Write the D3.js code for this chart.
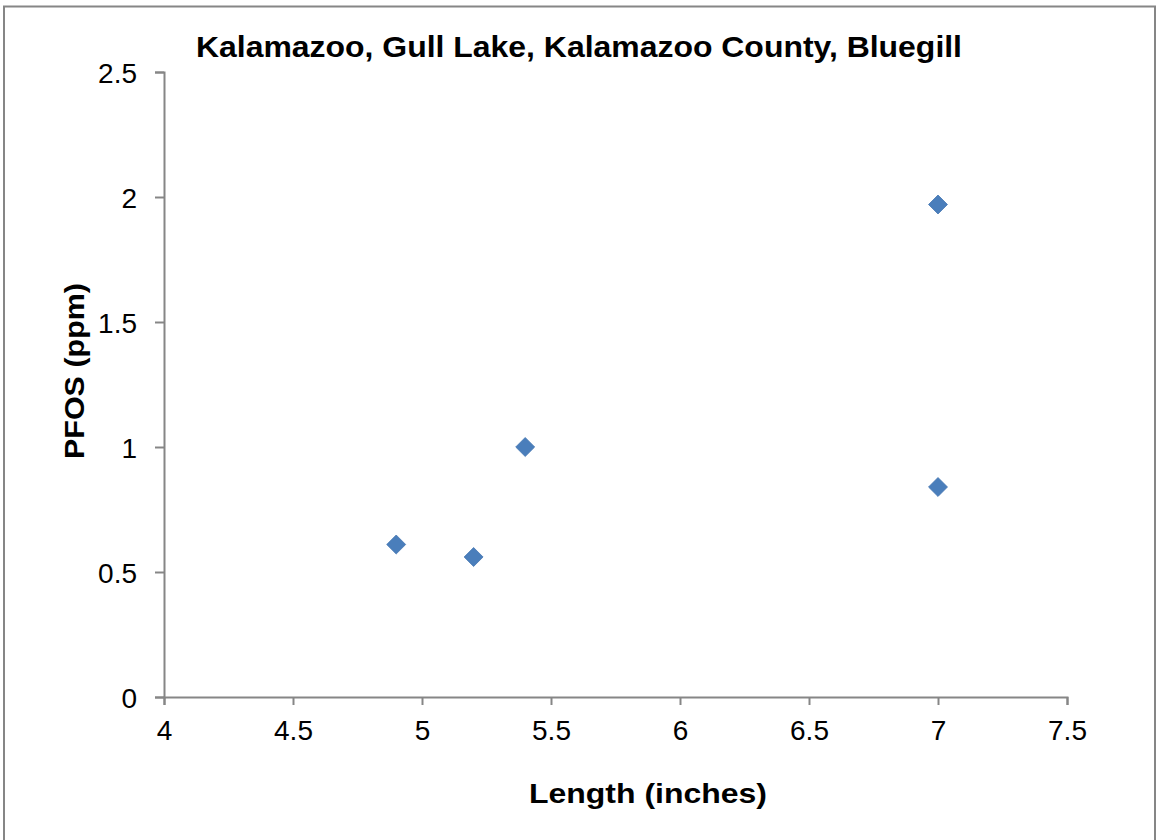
<!DOCTYPE html>
<html>
<head>
<meta charset="utf-8">
<script src="https://cdn.jsdelivr.net/npm/d3@7/dist/d3.min.js"></script>
<style>
  html, body { margin: 0; padding: 0; background: #fff; }
  svg { display: block; font-family: "Liberation Sans", Arial, sans-serif; }
</style>
</head>
<body>
<svg id="chart" width="1156" height="840"></svg>
<script>
// PFOS concentration vs. fish length, Gull Lake bluegill
const lengths = [4.9, 5.2, 5.4, 7.0, 7.0];
const pfos = [0.61, 0.56, 1.0, 1.97, 0.84];
const xTicks = [4, 4.5, 5, 5.5, 6, 6.5, 7, 7.5];
const yTicks = [0, 0.5, 1, 1.5, 2, 2.5];
const title = "Kalamazoo, Gull Lake, Kalamazoo County, Bluegill";
const xTitle = "Length (inches)";
const yTitle = "PFOS (ppm)";

const svg = d3.select("#chart");
const plot = { left: 164, right: 1067, top: 72, bottom: 697 };

// outer chart frame
svg.append("rect")
  .attr("x", 4).attr("y", 6.5)
  .attr("width", 1151).attr("height", 840)
  .attr("fill", "#fff").attr("stroke", "#868686").attr("stroke-width", 2);

const x = d3.scaleLinear().domain([4, 7.5]).range([plot.left, plot.right]);
const y = d3.scaleLinear().domain([0, 2.5]).range([plot.bottom, plot.top]);

const fmt = d => String(d);

const xAxis = svg.append("g")
  .attr("transform", `translate(0,${plot.bottom})`)
  .call(d3.axisBottom(x).tickValues(xTicks).tickFormat(fmt).tickSize(8).tickSizeOuter(8).tickPadding(15));
const yAxis = svg.append("g")
  .attr("transform", `translate(${plot.left},0)`)
  .call(d3.axisLeft(y).tickValues(yTicks).tickFormat(fmt).tickSize(9).tickSizeOuter(9).tickPadding(18));

[xAxis, yAxis].forEach(g => {
  g.selectAll("path.domain").attr("stroke", "#868686").attr("stroke-width", 2);
  g.selectAll(".tick line").attr("stroke", "#868686").attr("stroke-width", 2);
  g.selectAll(".tick text")
    .attr("fill", "#000")
    .style("font-family", "'Liberation Sans', Arial, sans-serif")
    .style("font-size", "28px");
});
xAxis.selectAll(".tick text").attr("dy", "0.71em");
yAxis.selectAll(".tick text").attr("dy", "0.36em");

// data markers: diamonds
const diamond = d3.symbol().type(d3.symbolDiamond2).size(230);
svg.append("g").selectAll("path")
  .data(lengths.map((l, i) => ({ l, v: pfos[i] })))
  .join("path")
  .attr("d", diamond)
  .attr("transform", d => `translate(${x(d.l)},${y(d.v)})`)
  .attr("fill", "#4a7ebb")
  .attr("stroke", "#4677b3")
  .attr("stroke-width", 0.8);

// titles
svg.append("text")
  .attr("x", 579).attr("y", 57)
  .attr("text-anchor", "middle")
  .attr("textLength", 766).attr("lengthAdjust", "spacingAndGlyphs")
  .style("font-size", "30px").style("font-weight", "bold")
  .text(title);

svg.append("text")
  .attr("x", 648).attr("y", 803)
  .attr("text-anchor", "middle")
  .attr("textLength", 238).attr("lengthAdjust", "spacingAndGlyphs")
  .style("font-size", "28px").style("font-weight", "bold")
  .text(xTitle);

svg.append("text")
  .attr("transform", "translate(84,371) rotate(-90)")
  .attr("text-anchor", "middle")
  .attr("textLength", 176).attr("lengthAdjust", "spacingAndGlyphs")
  .style("font-size", "28px").style("font-weight", "bold")
  .text(yTitle);
</script>
</body>
</html>
